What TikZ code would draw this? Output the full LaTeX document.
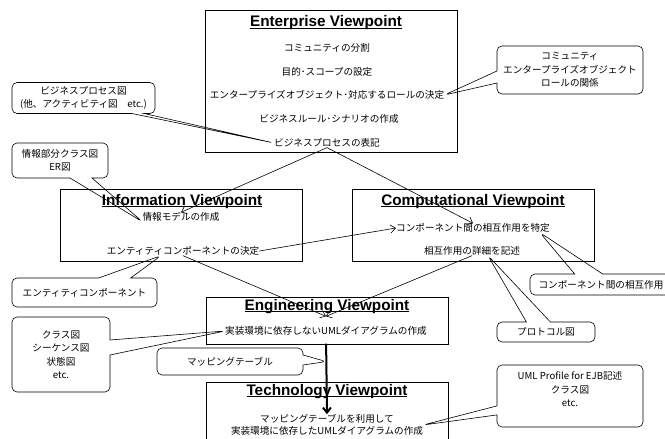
\documentclass[tikz,border=0pt]{standalone}
\usepackage{fontspec}
\setmainfont{Liberation Sans}
\newfontfamily\jpfont{Noto Sans CJK JP}
\usetikzlibrary{arrows.meta,shapes.callouts}
% thick underline for the viewpoint titles
\newcommand{\vpuline}[1]{\setbox0\hbox{#1}\rlap{\rule[-2.3pt]{\wd0}{1.1pt}}\box0}

\begin{document}
\begin{tikzpicture}[x=1pt,y=1pt]
		\tikzstyle{every node}+=[inner sep=0pt]
		\tikzstyle{vtitle}=[font=\bfseries\fontsize{15.3}{18}\selectfont, anchor=base]
		\tikzstyle{vtext}=[font=\jpfont\fontsize{9.6}{13.5}\selectfont, align=center]
		\tikzstyle{note}=[rectangle callout, draw, rounded corners=5pt, vtext, line width=0.6pt]
		\tikzstyle{flow}=[-{Straight Barb[length=5pt,width=8pt]}, line width=0.6pt]
		\useasboundingbox (0,0) rectangle (665,-439);
		% enterprise
		\draw [black, line width=0.7pt] (205,-10) rectangle (457,-152);
		\node [vtitle] (enttitle) at (326,-27) {\vpuline{Enterprise Viewpoint}};
		\node [vtext] (ent1) at (327,-48) {コミュニティの分割};
		\node [vtext] (ent2) at (327,-72) {目的･スコープの設定};
		\node [vtext] (ent3) at (327,-95) {エンタープライズオブジェクト･対応するロールの決定};
		\node [vtext] (ent4) at (329,-119) {ビジネスルール･シナリオの作成};
		\node [vtext] (ent5) at (327,-143) {ビジネスプロセスの表記};
		% information
		\draw [black, line width=0.7pt] (60,-189) rectangle (302,-261);
		\node [vtitle] (inftitle) at (182,-205) {\vpuline{Information Viewpoint}};
		\node [vtext] (inf1) at (181,-217) {情報モデルの作成};
		\node [vtext] (inf2) at (183,-251) {エンティティコンポーネントの決定};
		% computational
		\draw [black, line width=0.7pt] (352,-189) rectangle (594,-261);
		\node [vtitle] (comtitle) at (473,-205) {\vpuline{Computational Viewpoint}};
		\node [vtext] (com1) at (473,-228) {コンポーネント間の相互作用を特定};
		\node [vtext] (com2) at (472,-251) {相互作用の詳細を記述};
		% engineering
		\draw [black, line width=0.7pt] (206,-297) rectangle (448,-344);
		\node [vtitle] (engtitle) at (327,-310) {\vpuline{Engineering Viewpoint}};
		\node [vtext] (eng1) at (326,-331) {実装環境に依存しないUMLダイアグラムの作成};
		% technology
		\draw [black, line width=0.7pt] (206,-445) -- (206,-382) -- (448,-382) -- (448,-445);
		\node [vtitle] (tectitle) at (327,-395) {\vpuline{Technology Viewpoint}};
		\node [vtext, font=\jpfont\fontsize{9.6}{12.2}\selectfont] (tec1) at (327,-425) {マッピングテーブルを利用して\\実装環境に依存したUMLダイアグラムの作成};
		% flows between viewpoints
		\draw [flow] (ent5.south) -- (inf1.north);
		\draw [flow] (ent5.south) -- (com1.north);
		\draw [flow] (inf2.east) -- (com1.west);
		\draw [flow] (inf2.south) -- ([yshift=10pt]eng1.north);
		\draw [flow] (com2.south) -- ([yshift=10pt]eng1.north);
		\draw [flow, line width=2pt, shorten <=8pt] (eng1.south) -- coordinate[pos=0.33] (mapmid) (tec1.north);
		% callouts
		\node [note, minimum width=143pt, minimum height=31pt, callout pointer width=12pt,
			callout absolute pointer={(ent5.west)}] (bpnote) at (83.5,-98)
			{ビジネスプロセス図\\(他、アクティビティ図　etc.)};
		\node [note, minimum width=96pt, minimum height=35pt, callout pointer width=22pt,
			callout absolute pointer={(inf1.south west)}] (infnote) at (60,-160.5)
			{情報部分クラス図\\ER図};
		\node [note, minimum width=146pt, minimum height=48pt, callout pointer width=12pt,
			callout absolute pointer={(ent3.east)}] (entnote) at (570,-70)
			{コミュニティ\\エンタープライズオブジェクト\\ロールの関係};
		\node [note, minimum width=145pt, minimum height=29pt, callout pointer width=32pt,
			callout absolute pointer={([xshift=-22pt]inf2.south)}] (ecnote) at (84.5,-292.5)
			{エンティティコンポーネント};
		\node [note, minimum width=98pt, minimum height=75pt, callout pointer width=15pt,
			callout absolute pointer={(eng1.west)}] (clnote) at (61,-354.5)
			{クラス図\\シーケンス図\\状態図\\etc.};
		\node [note, minimum width=146pt, minimum height=27pt, callout pointer width=10pt,
			callout absolute pointer={(mapmid)}] (mapnote) at (230,-361.5)
			{マッピングテーブル};
		\node [note, minimum width=142pt, minimum height=21pt, callout pointer width=28pt,
			callout absolute pointer={([xshift=-10pt]com1.south east)}] (cinote) at (601,-284.5)
			{コンポーネント間の相互作用};
		\node [note, minimum width=98pt, minimum height=20pt, callout pointer width=24pt,
			callout absolute pointer={([xshift=16pt]com2.south)}] (prnote) at (546,-332)
			{プロトコル図};
		\node [note, minimum width=146pt, minimum height=62pt, callout pointer width=9pt,
			callout absolute pointer={(tec1.east)}] (umlnote) at (570,-396)
			{UML Profile for EJB記述\\クラス図\\etc.\\\mbox{}};
	\end{tikzpicture}
\end{document}
